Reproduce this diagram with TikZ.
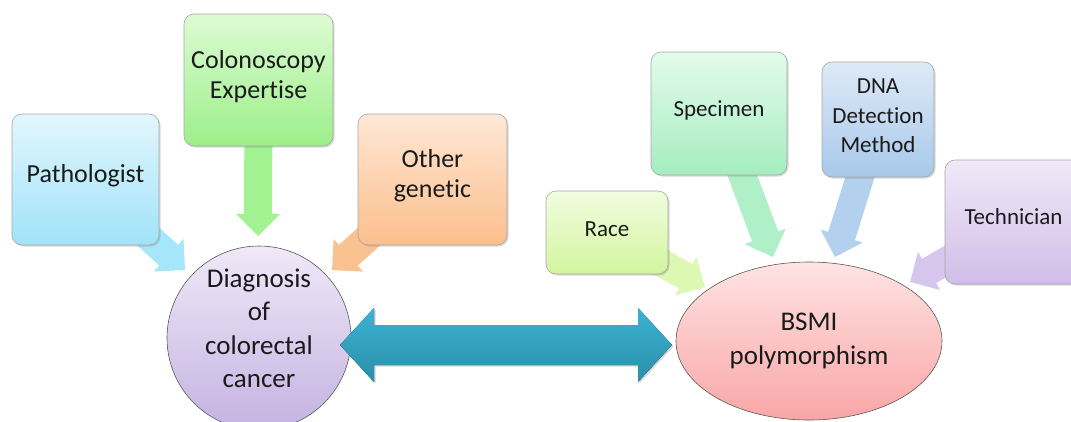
\documentclass[tikz,border=0pt]{standalone}
\usepackage{fontspec}
\setmainfont{Carlito}[Ligatures=NoCommon]
\usetikzlibrary{calc,shadows,shapes.geometric}
\pgfdeclarelayer{background}
\pgfsetlayers{background,main}
\definecolor{pathT}{HTML}{E3F6FD}\definecolor{pathB}{HTML}{A0E3F9}
\definecolor{colT}{HTML}{DDFBD3}\definecolor{colB}{HTML}{9CEF8A}
\definecolor{othT}{HTML}{FFE7D6}\definecolor{othB}{HTML}{FBBF8C}
\definecolor{racT}{HTML}{F1FDE0}\definecolor{racB}{HTML}{D3F59E}
\definecolor{speT}{HTML}{E3FBEB}\definecolor{speB}{HTML}{A6EDC1}
\definecolor{dnaT}{HTML}{DEEAF7}\definecolor{dnaB}{HTML}{A8C8EA}
\definecolor{tecT}{HTML}{F0E9F7}\definecolor{tecB}{HTML}{D1BDE9}
\definecolor{diaT}{HTML}{EFE9F7}\definecolor{diaB}{HTML}{C5B2E2}
\definecolor{bsmT}{HTML}{FFE3E3}\definecolor{bsmB}{HTML}{F9A6A6}
\definecolor{dblT}{HTML}{3BB3D3}\definecolor{dblB}{HTML}{2A8FA9}
\definecolor{arBlue}{HTML}{A6E6FB}
\definecolor{arGreen}{HTML}{A3F291}
\definecolor{arOrange}{HTML}{FBC291}
\definecolor{arRace}{HTML}{DDF8B2}
\definecolor{arSpec}{HTML}{B0F0C8}
\definecolor{arDna}{HTML}{B3D1EE}
\definecolor{arTech}{HTML}{D6C6EE}
\definecolor{txt}{HTML}{1A1A1A}
% block arrow: #1 tail, #2 tip, #3 fill colour
\newcommand\blkarr[3]{%
  \coordinate (T) at #1; \coordinate (H) at #2;
  \coordinate (B) at ($(H)!22pt!(T)$);
  \fill[#3] ($(T)!14pt!90:(H)$) -- ($(B)!14pt!90:(H)$) -- ($(B)!22pt!90:(H)$)
    -- (H) -- ($(B)!22pt!-90:(H)$) -- ($(B)!14pt!-90:(H)$) -- ($(T)!14pt!-90:(H)$) -- cycle;
}
% centred text lines, lifted by #1 without changing the reported size
\newcommand\liftlines[2]{\raisebox{#1}[\height][\depth]{\begin{tabular}{@{}c@{}}#2\end{tabular}}}
\begin{document}
\begin{tikzpicture}[x=1pt,y=-1pt,
  mydrop/.style={drop shadow={shadow xshift=1.5pt,shadow yshift=-1.5pt,opacity=0.3,fill=black!50}},
  boxbase/.style={rectangle,rounded corners=10pt,draw=black!35,line width=0.6pt,
    mydrop,inner sep=0pt,text=txt},
  bigbox/.style={boxbase,font=\fontsize{26}{30}\selectfont},
  smallbox/.style={boxbase,font=\fontsize{23}{29.5}\selectfont},
  hub/.style={draw=black!65,line width=0.6pt,inner sep=0pt,text=txt,
    font=\fontsize{27}{33.5}\selectfont}]
\useasboundingbox (0,0) rectangle (1071,421);

% left hub and factors
\node[hub,circle,minimum size=184pt,top color=diaT,bottom color=diaB] (diag) at (259,338)
  {\liftlines{7pt}{Diagnosis\\of\\colorectal\\cancer}};
\node[bigbox,minimum width=147pt,minimum height=131pt,top color=pathT,bottom color=pathB]
  (patho) at (85.5,179.5) {\liftlines{3pt}{Pathologist}};
\node[bigbox,minimum width=149pt,minimum height=132pt,top color=colT,bottom color=colB]
  (colon) at (258.5,80) {\liftlines{3pt}{Colonoscopy\\Expertise}};
\node[bigbox,minimum width=149pt,minimum height=131pt,top color=othT,bottom color=othB]
  (other) at (432.5,179.5) {\liftlines{3pt}{Other\\genetic}};

% right hub and factors
\node[hub,ellipse,minimum width=266pt,minimum height=158pt,top color=bsmT,bottom color=bsmB]
  (bsmi) at (809,341) {\liftlines{0pt}{BSMI\\polymorphism}};
\node[smallbox,minimum width=122pt,minimum height=83pt,top color=racT,bottom color=racB]
  (race) at (607,232.5) {\liftlines{2pt}{Race}};
\node[smallbox,minimum width=136pt,minimum height=123pt,top color=speT,bottom color=speB]
  (spec) at (719,113.5) {\liftlines{3pt}{Specimen}};
\node[smallbox,minimum width=112pt,minimum height=115pt,top color=dnaT,bottom color=dnaB]
  (dna) at (878,119.5) {\liftlines{2pt}{DNA\\Detection\\Method}};
\node[smallbox,minimum width=137pt,minimum height=124pt,top color=tecT,bottom color=tecB]
  (tech) at (1013.5,222) {\liftlines{3pt}{Technician}};

% factor arrows (behind boxes)
\begin{pgfonlayer}{background}
  \blkarr{(patho.center)}{($(diag.center)+(-74,-68)$)}{arBlue}
  \blkarr{(colon.center)}{($(diag.center)+(-1,-102)$)}{arGreen}
  \blkarr{(other.center)}{($(diag.center)+(73,-68)$)}{arOrange}
  \blkarr{(race.center)}{($(bsmi.center)+(-104,-54)$)}{arRace}
  \blkarr{(spec.center)}{($(bsmi.center)+(-36,-84)$)}{arSpec}
  \blkarr{(dna.center)}{($(bsmi.center)+(26,-84)$)}{arDna}
  \blkarr{(tech.center)}{($(bsmi.center)+(101,-59)$)}{arTech}
\end{pgfonlayer}

% double arrow between hubs
\coordinate (dl) at ($(diag.center)+(81,7)$);
\coordinate (dr) at ($(bsmi.center)+(-137,4)$);
\fill[top color=dblT,bottom color=dblB,mydrop]
  (dl) -- ($(dl)+(34,-37)$) -- ($(dl)+(34,-20)$) -- ($(dr)+(-34,-20)$) -- ($(dr)+(-34,-37)$)
  -- (dr) -- ($(dr)+(-34,37)$) -- ($(dr)+(-34,20)$) -- ($(dl)+(34,20)$) -- ($(dl)+(34,37)$) -- cycle;
\end{tikzpicture}
\end{document}
